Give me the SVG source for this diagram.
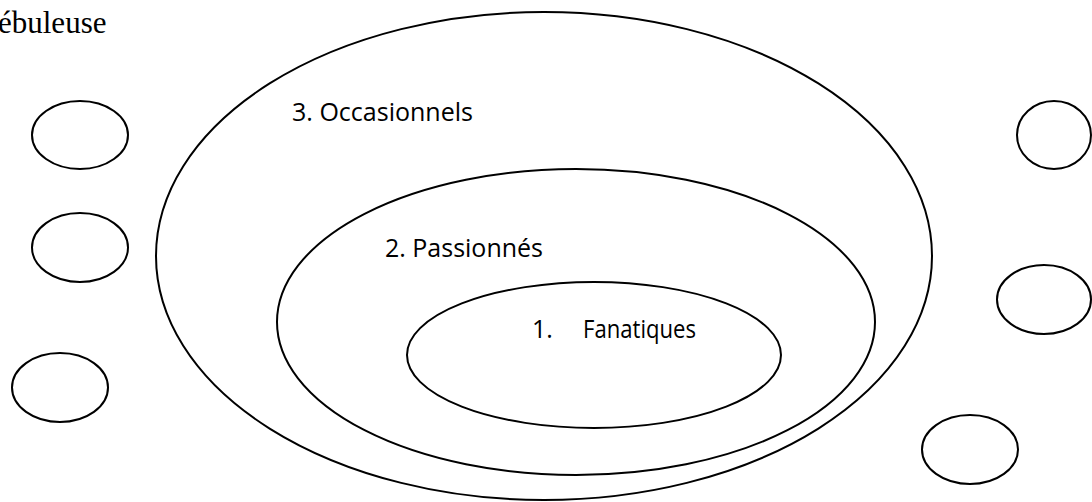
<svg xmlns="http://www.w3.org/2000/svg" width="1092" height="502" viewBox="0 0 1092 502">
  <style>
    .ring { fill: none; stroke: #000; stroke-width: 2; }
    .label { font-family: "Open Sans", "Liberation Sans", sans-serif; font-size: 25px; fill: #000; }
    .title { font-family: "Liberation Serif", serif; font-size: 31px; fill: #000; }
  </style>
  <rect width="1092" height="502" fill="#fff"/>

  <text class="title" x="-2" y="33">ébuleuse</text>

  <!-- concentric audience rings -->
  <g id="occasionnels">
    <ellipse class="ring" cx="544" cy="256" rx="388" ry="244"/>
    <text class="label" x="292" y="121" textLength="181" lengthAdjust="spacingAndGlyphs">3. Occasionnels</text>
  </g>
  <g id="passionnes">
    <ellipse class="ring" cx="576" cy="322" rx="299" ry="153"/>
    <text class="label" x="385" y="257" textLength="158" lengthAdjust="spacingAndGlyphs">2. Passionnés</text>
  </g>
  <g id="fanatiques">
    <ellipse class="ring" cx="594" cy="355" rx="187" ry="73"/>
    <text class="label" x="532" y="338">1.</text>
    <text class="label" x="583" y="338" textLength="113" lengthAdjust="spacingAndGlyphs">Fanatiques</text>
  </g>

  <!-- outlying bubbles -->
  <g id="bubble-l1"><ellipse class="ring" cx="80" cy="135" rx="48" ry="34"/></g>
  <g id="bubble-l2"><ellipse class="ring" cx="80" cy="247.5" rx="48" ry="34.5"/></g>
  <g id="bubble-l3"><ellipse class="ring" cx="60" cy="387.5" rx="48" ry="34.5"/></g>
  <g id="bubble-r1"><ellipse class="ring" cx="1054" cy="135" rx="37" ry="34"/></g>
  <g id="bubble-r2"><ellipse class="ring" cx="1044" cy="299.5" rx="47" ry="34.5"/></g>
  <g id="bubble-r3"><ellipse class="ring" cx="970" cy="449.5" rx="48" ry="34.5"/></g>

  <g id="connectors"/>
</svg>
